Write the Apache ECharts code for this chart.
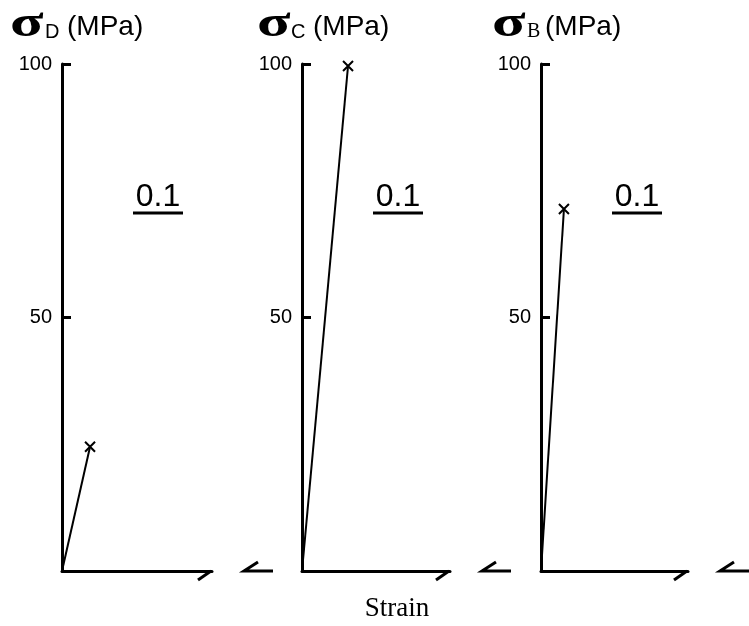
<!DOCTYPE html>
<html>
<head>
<meta charset="utf-8">
<script src="https://cdn.jsdelivr.net/npm/echarts@6/dist/echarts.min.js"></script>
<style>
  html, body { margin: 0; padding: 0; background: #fff; }
  #main { width: 749px; height: 626px; }
</style>
</head>
<body>
<div id="main"></div>
<script>
// panels, left to right
var panelNames = ["D", "C", "B"];
var subFonts = ["Liberation Sans", "Liberation Sans", "Liberation Serif"];
// failure point of each curve (strain in panel width units, stress MPa)
var failStrain = [0.187, 0.311, 0.156];
var failStress = [24.5, 99.6, 71.4];
var scaleLabels = ["0.1", "0.1", "0.1"];
var yTicks = [0, 50, 100];
var unitText = "(MPa)";
var xTitle = "Strain";

(function () {
  var myChart = echarts.init(document.getElementById("main"));

  // layout of the three plot frames
  var frames = [
    { left: 62, width: 150 },
    { left: 302, width: 148 },
    { left: 541, width: 147 },
  ];
  var top = 64, height = 507;
  var bottom = top + height;
  // title pieces: sigma, subscript, unit x positions
  var titleX = [
    [10, 45, 67],
    [257, 291, 313],
    [492, 527, 545],
  ];

  var grid = [], xAxis = [], yAxis = [], series = [], graphic = [];

  frames.forEach(function (f, i) {
    grid.push({ left: f.left, top: top, width: f.width, height: height });
    xAxis.push({
      type: "value",
      gridIndex: i,
      min: 0,
      max: 1,
      axisLine: { show: true, onZero: false, lineStyle: { color: "#000", width: 3 } },
      axisTick: { show: false },
      axisLabel: { show: false },
      splitLine: { show: false },
    });
    yAxis.push({
      type: "value",
      gridIndex: i,
      min: yTicks[0],
      max: yTicks[yTicks.length - 1],
      interval: 50,
      axisLine: { show: true, lineStyle: { color: "#000", width: 3 } },
      axisTick: { show: true, inside: true, length: 9, lineStyle: { color: "#000", width: 3 } },
      axisLabel: {
        color: "#000",
        fontSize: 20,
        fontFamily: "Liberation Sans",
        margin: 10,
        formatter: function (v) { return v === 0 ? "" : String(v); },
      },
      splitLine: { show: false },
    });
    series.push({
      type: "line",
      xAxisIndex: i,
      yAxisIndex: i,
      data: [
        { value: [0, 0], symbol: "none" },
        { value: [failStrain[i], failStress[i]] },
      ],
      symbol: "path://M0,0L10,10M10,0L0,10",
      symbolSize: 10,
      showSymbol: true,
      lineStyle: { color: "#000", width: 2 },
      itemStyle: { color: "#000", borderColor: "#000", borderWidth: 2 },
      animation: false,
    });

    var R = f.left + f.width;
    // axis break marks
    graphic.push({
      type: "polyline",
      shape: { points: [[R - 1, bottom], [R - 14, bottom + 9]] },
      style: { stroke: "#000", lineWidth: 3, fill: null },
    });
    graphic.push({
      type: "polyline",
      shape: { points: [[R + 46, bottom - 9], [R + 32, bottom], [R + 61, bottom]] },
      style: { stroke: "#000", lineWidth: 3, fill: null },
    });
    // underlined scale label
    var cx = f.left + 96;
    graphic.push({
      type: "text",
      style: {
        text: scaleLabels[i],
        x: cx,
        y: 197,
        align: "center",
        verticalAlign: "middle",
        font: "32px 'Liberation Sans'",
        fill: "#000",
      },
    });
    graphic.push({
      type: "line",
      shape: { x1: cx - 25, y1: 213, x2: cx + 25, y2: 213 },
      style: { stroke: "#000", lineWidth: 3 },
    });

    // panel title: sigma, subscript, unit
    var tx = titleX[i];
    graphic.push({
      type: "text",
      x: tx[0],
      y: 25,
      scaleX: 1.4,
      style: {
        text: "σ",
        x: 0,
        y: 0,
        verticalAlign: "middle",
        font: "bold 44px 'Liberation Serif'",
        fill: "#000",
      },
    });
    graphic.push({
      type: "text",
      style: {
        text: panelNames[i],
        x: tx[1],
        y: 32,
        verticalAlign: "middle",
        font: "20px '" + subFonts[i] + "'",
        fill: "#000",
      },
    });
    graphic.push({
      type: "text",
      style: {
        text: unitText,
        x: tx[2],
        y: 27,
        verticalAlign: "middle",
        font: "28px 'Liberation Sans'",
        fill: "#000",
      },
    });
  });

  graphic.push({
    type: "text",
    style: {
      text: xTitle,
      x: 397,
      y: 609,
      align: "center",
      verticalAlign: "middle",
      font: "27px 'Liberation Serif'",
      fill: "#000",
    },
  });

  myChart.setOption({
    backgroundColor: "#fff",
    animation: false,
    grid: grid,
    xAxis: xAxis,
    yAxis: yAxis,
    series: series,
    graphic: graphic,
  });
  window.addEventListener("resize", function () {
    myChart.resize();
  });
})();
</script>
</body>
</html>
